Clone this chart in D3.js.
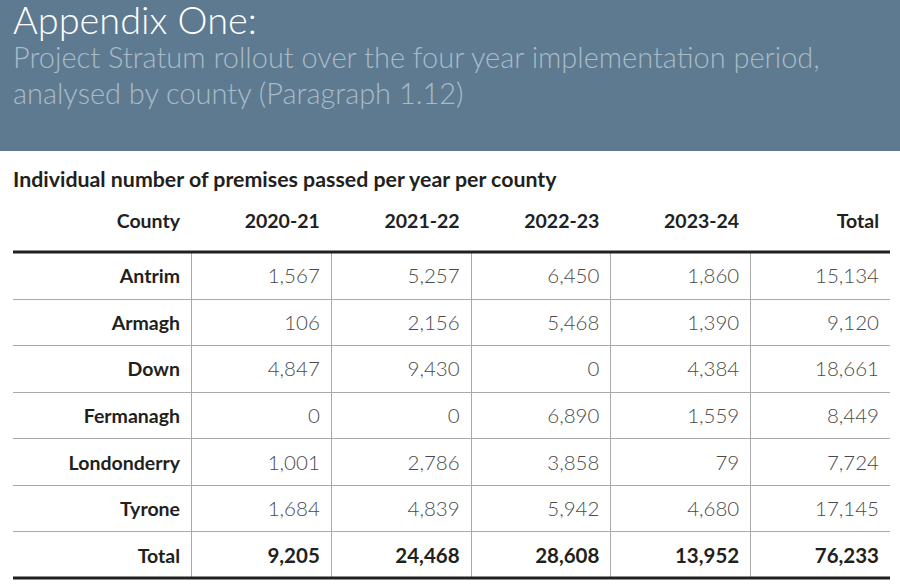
<!DOCTYPE html>
<html>
<head>
    <meta charset="utf-8">
    <title>Appendix One</title>
    <script src="https://d3js.org/d3.v7.min.js"></script>
    <style>
        body { margin: 0; background: #fff; }
        svg { display: block; }
    </style>
</head>
<body>
<svg id="chart" width="900" height="587"></svg>

<script>
    // Данные таблицы
    var counties = ["Antrim", "Armagh", "Down", "Fermanagh", "Londonderry", "Tyrone"];
    var years = ["2020-21", "2021-22", "2022-23", "2023-24"];
    var y2020 = [1567, 106, 4847, 0, 1001, 1684];
    var y2021 = [5257, 2156, 9430, 0, 2786, 4839];
    var y2022 = [6450, 5468, 0, 6890, 3858, 5942];
    var y2023 = [1860, 1390, 4384, 1559, 79, 4680];
    var countyTotals = [15134, 9120, 18661, 8449, 7724, 17145];
    var yearTotals = [9205, 24468, 28608, 13952];
    var grandTotal = 76233;

    var title = "Appendix One:";
    var subtitle = ["Project Stratum rollout over the four year implementation period,",
                    "analysed by county (Paragraph 1.12)"];
    var caption = "Individual number of premises passed per year per county";

    var svg = d3.select("#chart");
    var fmt = d3.format(",");
    var font = "Lato, 'Open Sans', sans-serif";

    // Заголовок
    svg.append("rect")
        .attr("x", 0).attr("y", 0)
        .attr("width", 900).attr("height", 151)
        .attr("fill", "#5d7a91");

    // Подгонка ширины текста
    function fit(sel, w) {
        var len = sel.node().getComputedTextLength();
        var fs = parseFloat(sel.attr("font-size"));
        sel.attr("font-size", fs * w / len);
        return sel;
    }

    fit(svg.append("text")
        .attr("x", 13).attr("y", 34)
        .attr("font-family", font).attr("font-weight", 300)
        .attr("font-size", 32).attr("fill", "#ffffff")
        .text(title), 244);

    var subSize = null;
    subtitle.forEach(function(s, i) {
        var t = svg.append("text")
            .attr("x", 13).attr("y", 68 + i * 36)
            .attr("font-family", font).attr("font-weight", 300)
            .attr("font-size", 27).attr("fill", "#aabac7")
            .text(s);
        if (i === 0) subSize = fit(t, 807).attr("font-size");
        else t.attr("font-size", subSize);
    });

    fit(svg.append("text")
        .attr("x", 13).attr("y", 187)
        .attr("font-family", font).attr("font-weight", 700)
        .attr("font-size", 19).attr("fill", "#231f20")
        .text(caption), 544);

    // Шкалы
    var columns = ["County"].concat(years).concat(["Total"]);
    var x = d3.scaleBand().domain(years.concat(["Total"])).range([191, 890]);
    var rows = counties.concat(["Total"]);
    var y = d3.scaleBand().domain(rows).range([252, 578]);

    function colRight(c) { return c === "County" ? 180 : x(c) + x.bandwidth() - 11; }

    // Заголовки столбцов
    svg.append("g")
        .selectAll("text")
        .data(columns)
        .enter().append("text")
        .attr("x", function(d) { return colRight(d); })
        .attr("y", 228)
        .attr("text-anchor", "end")
        .attr("font-family", font).attr("font-weight", 700)
        .attr("font-size", 19.5).attr("fill", "#231f20")
        .text(function(d) { return d; });

    // Линии сетки
    var grid = svg.append("g");
    grid.selectAll("line.h")
        .data(rows.slice(1))
        .enter().append("line")
        .attr("x1", 13).attr("x2", 890)
        .attr("y1", function(d) { return Math.round(y(d)) + 0.5; })
        .attr("y2", function(d) { return Math.round(y(d)) + 0.5; })
        .style("stroke", "#a9a9a9").style("stroke-width", 1);
    grid.selectAll("line.v")
        .data(x.domain())
        .enter().append("line")
        .attr("x1", function(d) { return Math.round(x(d)) + 0.5; })
        .attr("x2", function(d) { return Math.round(x(d)) + 0.5; })
        .attr("y1", 252).attr("y2", 578)
        .style("stroke", "#a9a9a9").style("stroke-width", 1);
    [252, 578].forEach(function(yy) {
        grid.append("line")
            .attr("x1", 13).attr("x2", 890)
            .attr("y1", yy).attr("y2", yy)
            .style("stroke", "#231f20").style("stroke-width", 3);
    });

    // Строки таблицы
    var series = [y2020, y2021, y2022, y2023];
    var tableRows = counties.map(function(c, i) {
        return { name: c, bold: false, values: series.map(function(s) { return s[i]; }).concat([countyTotals[i]]) };
    });
    tableRows.push({ name: "Total", bold: true, values: yearTotals.concat([grandTotal]) });

    var rowG = svg.append("g")
        .selectAll("g")
        .data(tableRows)
        .enter().append("g")
        .attr("transform", function(d) { return "translate(0," + (y(d.name) + y.bandwidth() / 2 + 8) + ")"; });

    rowG.append("text")
        .attr("x", 180)
        .attr("text-anchor", "end")
        .attr("font-family", font).attr("font-weight", 700)
        .attr("font-size", 19.5).attr("fill", "#231f20")
        .text(function(d) { return d.name; });

    rowG.selectAll("text.v")
        .data(function(d) { return d.values.map(function(v, i) { return { v: v, col: x.domain()[i], bold: d.bold }; }); })
        .enter().append("text")
        .attr("x", function(d) { return colRight(d.col); })
        .attr("text-anchor", "end")
        .attr("font-family", font)
        .attr("font-weight", function(d) { return d.bold ? 700 : 300; })
        .attr("font-size", 20.5)
        .attr("fill", function(d) { return d.bold ? "#231f20" : "#4a4a4a"; })
        .text(function(d) { return fmt(d.v); });
</script>
</body>
</html>
